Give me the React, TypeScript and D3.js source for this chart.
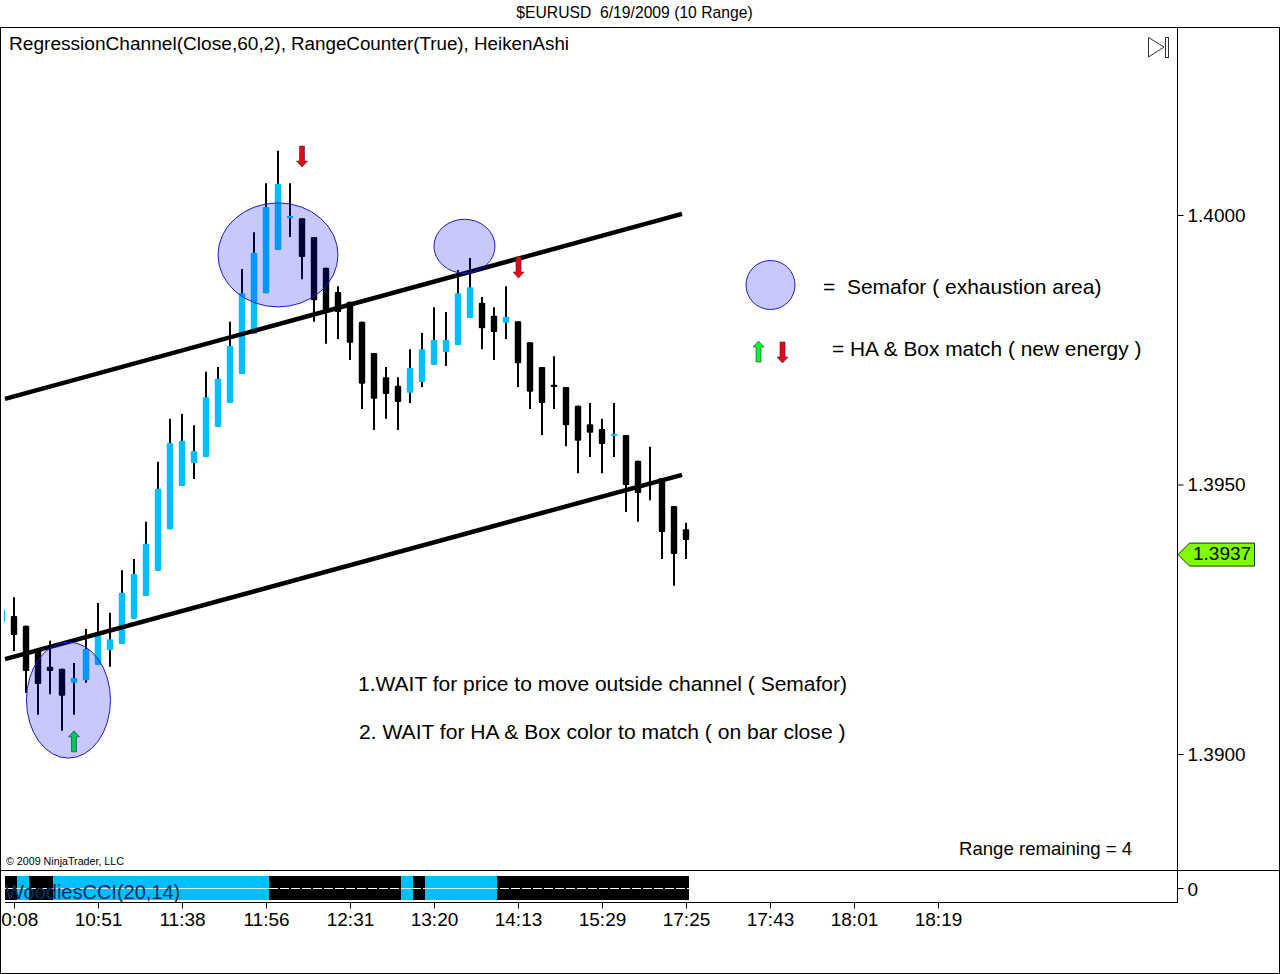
import { useEffect, useRef } from "react";
import * as d3 from "d3";

const FONT = '"Liberation Sans", Arial, sans-serif';
const UP_COLOR = "#00bfff";

// one entry per bar, the first bar is cut off by the left edge of the panel
const highs = [
  1.39291, 1.39291, 1.39238, 1.39193, 1.3921, 1.39158, 1.39169, 1.39232, 1.3928, 1.39262,
  1.39341, 1.39362, 1.39431, 1.39542, 1.39622, 1.39631, 1.3961, 1.39709, 1.39718, 1.39802,
  1.399, 1.39968, 1.40059, 1.40119, 1.40059, 1.39994, 1.39959, 1.39902, 1.39868, 1.39839,
  1.39802, 1.39744, 1.39718, 1.39699, 1.39751, 1.39781, 1.39829, 1.3982, 1.39898, 1.3992,
  1.39848, 1.39829, 1.39868, 1.39803, 1.39764, 1.39718, 1.39738, 1.39681, 1.39646, 1.39651,
  1.39622, 1.39651, 1.39592, 1.39544, 1.3957, 1.39512, 1.3946, 1.39429,
];
const lows = [
  1.39212, 1.39191, 1.39113, 1.39073, 1.39111, 1.39043, 1.39073, 1.39132, 1.39165, 1.39162,
  1.39204, 1.39251, 1.39293, 1.3934, 1.39417, 1.39497, 1.3951, 1.39551, 1.39607, 1.39651,
  1.39705, 1.39779, 1.39855, 1.39935, 1.39959, 1.39881, 1.39802, 1.39761, 1.3977, 1.39731,
  1.3964, 1.39601, 1.39622, 1.39601, 1.39651, 1.39681, 1.39722, 1.3972, 1.39759, 1.39809,
  1.39751, 1.39731, 1.3977, 1.39681, 1.3964, 1.39592, 1.3964, 1.39571, 1.39521, 1.39551,
  1.39521, 1.39551, 1.39449, 1.39431, 1.39471, 1.39362, 1.39312, 1.39362,
];
const opens = [
  1.39245, 1.39256, 1.39238, 1.39193, 1.39162, 1.39158, 1.39132, 1.39137, 1.39165, 1.39193,
  1.39204, 1.39251, 1.39293, 1.3934, 1.39417, 1.39497, 1.3954, 1.39551, 1.39607, 1.39651,
  1.39705, 1.39779, 1.39855, 1.39935, 1.39994, 1.39994, 1.39959, 1.39902, 1.39857, 1.39839,
  1.39802, 1.39744, 1.39699, 1.39683, 1.3967, 1.3969, 1.39722, 1.39746, 1.39759, 1.39809,
  1.39837, 1.39813, 1.398, 1.39803, 1.39764, 1.39718, 1.39685, 1.39681, 1.39646, 1.39612,
  1.39603, 1.3959, 1.39592, 1.39544, 1.39505, 1.39512, 1.3946, 1.39417,
];
const closes = [
  1.39267, 1.39221, 1.39154, 1.3913, 1.39154, 1.39108, 1.39141, 1.39195, 1.39221, 1.39213,
  1.39299, 1.39334, 1.3939, 1.39492, 1.39577, 1.39581, 1.39562, 1.39662, 1.39696, 1.39757,
  1.39855, 1.3993, 1.40015, 1.40058, 1.39998, 1.39922, 1.39842, 1.3982, 1.3982, 1.39763,
  1.39687, 1.39659, 1.39668, 1.39653, 1.39716, 1.39751, 1.39768, 1.39768, 1.39855, 1.39866,
  1.3979, 1.39783, 1.39811, 1.39725, 1.39672, 1.39651, 1.39681, 1.3961, 1.39581, 1.39596,
  1.39575, 1.39594, 1.39499, 1.39484, 1.39501, 1.39412, 1.39371, 1.39397,
];

// WoodiesCCI state per bar, starting at the second bar
const cciState = [
  -1, 1, -1, -1, 1, 1, 1, 1, 1, 1, 1, 1, 1, 1, 1, 1, 1, 1, 1, 1, 1, 1,
  -1, -1, -1, -1, -1, -1, -1, -1, -1, -1, -1, 1, -1, 1, 1, 1, 1, 1, 1,
  -1, -1, -1, -1, -1, -1, -1, -1, -1, -1, -1, -1, -1, -1, -1, -1,
];

const timeTickBars = [1, 8, 15, 22, 29, 36, 43, 50, 57, 64, 71, 78];
const timeLabels = ["10:08", "10:51", "11:38", "11:56", "12:31", "13:20", "14:13", "15:29", "17:25", "17:43", "18:01", "18:19"];
const priceTicks = [1.39, 1.395, 1.4];

const channelBars = [0.25, 56.67];
const channelUpper = [1.39659, 1.40002];
const channelLower = [1.39176, 1.39518];

const semaforBars = [5.54, 23, 38.54];
const semaforPrices = [1.391, 1.39926, 1.39942];
const semaforRx = [42, 60, 30.5];
const semaforRy = [58, 52, 27];

const lastPrice = 1.3937;

function arrowPath(x: number, tipY: number, dir: number) {
  // dir = 1 points down, dir = -1 points up
  const p = d3.path();
  const tail = tipY - dir * 21;
  const neck = tipY - dir * 6;
  p.moveTo(x, tipY);
  p.lineTo(x + 5.5, neck);
  p.lineTo(x + 2.5, neck);
  p.lineTo(x + 2.5, tail);
  p.lineTo(x - 2.5, tail);
  p.lineTo(x - 2.5, neck);
  p.lineTo(x - 5.5, neck);
  p.closePath();
  return p.toString();
}

export default function App() {
  const svgRef = useRef<SVGSVGElement | null>(null);

  useEffect(() => {
    const svg = d3.select(svgRef.current);
    svg.selectAll("*").remove();

    const x = d3.scaleLinear().domain([0, 57]).range([2, 686]);
    const y = d3.scaleLinear().domain([1.39, 1.4]).range([754, 215]);
    const cciY = d3.scaleLinear().domain([-1, 1]).range([900, 876]);

    const label = (tx: number, ty: number, text: string, size: number, anchor = "start") =>
      svg
        .append("text")
        .attr("x", tx)
        .attr("y", ty)
        .attr("font-family", FONT)
        .attr("font-size", size)
        .attr("text-anchor", anchor)
        .attr("fill", "#000")
        .style("white-space", "pre")
        .text(text);

    svg.append("rect").attr("width", 1280).attr("height", 974).attr("fill", "#fff");

    svg.append("clipPath").attr("id", "plot").append("rect").attr("x", 4).attr("y", 28).attr("width", 1173).attr("height", 842);

    // candles
    const plot = svg.append("g").attr("clip-path", "url(#plot)");
    const bars = plot.selectAll("g.bar").data(highs).enter().append("g").attr("class", "bar");
    bars
      .append("line")
      .attr("x1", (_, i) => x(i))
      .attr("x2", (_, i) => x(i))
      .attr("y1", (d) => y(d))
      .attr("y2", (_, i) => y(lows[i]))
      .attr("stroke", "#000")
      .attr("stroke-width", 2);
    bars
      .append("rect")
      .attr("x", (_, i) => x(i) - 3.2)
      .attr("width", 6.4)
      .attr("y", (_, i) => y(Math.max(opens[i], closes[i])))
      .attr("height", (_, i) => Math.max(1, Math.abs(y(opens[i]) - y(closes[i]))))
      .attr("rx", 1)
      .attr("fill", (_, i) => (closes[i] >= opens[i] ? UP_COLOR : "#000"));

    // regression channel
    const channelLine = d3
      .line<number>()
      .x((_, i) => x(channelBars[i]))
      .y((d) => y(d));
    [channelUpper, channelLower].forEach((c) => {
      svg.append("path").attr("d", channelLine(c)).attr("fill", "none").attr("stroke", "#000").attr("stroke-width", 4.5);
    });

    // signal arrows
    const arrow = (ax: number, tip: number, dir: number, color: string) =>
      svg
        .append("path")
        .attr("d", arrowPath(ax, tip, dir))
        .attr("fill", color)
        .attr("stroke", "#3a2a2a")
        .attr("stroke-width", 0.6);
    arrow(x(6), y(1.39043), -1, "#00f830");
    arrow(x(25), y(1.40089), 1, "#f00010");
    arrow(x(43) + 0.5, y(1.39883), 1, "#f00010");
    arrow(758.5, 341, -1, "#00f830");
    arrow(782.5, 363, 1, "#f00010");

    // semafor circles, painted over the bars
    const blob = (cx: number, cy: number, rx: number, ry: number) =>
      svg
        .append("ellipse")
        .attr("cx", cx)
        .attr("cy", cy)
        .attr("rx", rx)
        .attr("ry", ry)
        .attr("fill", "rgba(0,10,240,0.22)")
        .attr("stroke", "#1c1cc0")
        .attr("stroke-width", 1);
    semaforBars.forEach((b, i) => blob(x(b), y(semaforPrices[i]), semaforRx[i], semaforRy[i]));
    blob(770.5, 285, 24.5, 24.5);

    // indicator panel
    const cci = svg.append("g").attr("clip-path", "url(#plot2)");
    svg.append("clipPath").attr("id", "plot2").append("rect").attr("x", 5).attr("y", 871).attr("width", 1172).attr("height", 31);
    cci
      .selectAll("rect")
      .data(cciState)
      .enter()
      .append("rect")
      .attr("x", (_, i) => x(i + 1) - 9)
      .attr("width", 12)
      .attr("y", cciY(1))
      .attr("height", cciY(-1) - cciY(1))
      .attr("shape-rendering", "crispEdges")
      .attr("fill", (d) => (d > 0 ? UP_COLOR : "#000"));
    cci
      .append("line")
      .attr("x1", 5)
      .attr("x2", 689)
      .attr("y1", cciY(0) + 0.5)
      .attr("y2", cciY(0) + 0.5)
      .attr("stroke", "#fff")
      .attr("stroke-dasharray", "9 2");
    // the zero line reads as unbroken over the blue stretches
    cciState.forEach((d, i) => {
      if (d <= 0) return;
      cci
        .append("line")
        .attr("x1", x(i + 1) - 9)
        .attr("x2", x(i + 1) + 3)
        .attr("y1", cciY(0) + 0.5)
        .attr("y2", cciY(0) + 0.5)
        .attr("stroke", "#d8f4ff");
    });
    cci
      .append("text")
      .attr("x", 5)
      .attr("y", 899)
      .attr("font-family", FONT)
      .attr("font-size", 20)
      .attr("fill", "#04305e")
      .text("WoodiesCCI(20,14)");

    // frame
    const frameLine = (x1: number, y1: number, x2: number, y2: number) =>
      svg
        .append("line")
        .attr("x1", x1)
        .attr("y1", y1)
        .attr("x2", x2)
        .attr("y2", y2)
        .attr("stroke", "#000")
        .attr("stroke-width", 1)
        .attr("shape-rendering", "crispEdges");
    frameLine(0, 27.5, 1280, 27.5);
    frameLine(0.5, 27, 0.5, 974);
    frameLine(1279.5, 27, 1279.5, 974);
    frameLine(0, 973.5, 1280, 973.5);
    frameLine(0, 870.5, 1280, 870.5);
    frameLine(1177.5, 27, 1177.5, 903);
    frameLine(5, 902.5, 1178, 902.5);

    // price axis
    const yAxis = d3
      .axisRight(y)
      .tickValues(priceTicks)
      .tickSize(6)
      .tickPadding(4)
      .tickFormat((d) => d3.format(".4f")(d as number));
    const yG = svg.append("g").attr("transform", "translate(1177.5,0)").call(yAxis);
    yG.select(".domain").remove();
    yG.selectAll("text").attr("font-family", FONT).attr("font-size", 19).attr("fill", "#000").attr("dy", "0.33em");
    yG.selectAll("line").attr("stroke", "#000");

    const cciAxis = d3
      .axisRight(cciY)
      .tickValues([0])
      .tickSize(6)
      .tickPadding(4)
      .tickFormat((d) => d3.format("d")(d as number));
    const cG = svg.append("g").attr("transform", "translate(1177.5,0)").call(cciAxis);
    cG.select(".domain").remove();
    cG.selectAll("text").attr("font-family", FONT).attr("font-size", 19).attr("fill", "#000").attr("dy", "0.42em");
    cG.selectAll("line").attr("stroke", "#000");

    // time axis
    const xAxis = d3
      .axisBottom(x)
      .tickValues(timeTickBars)
      .tickSize(6)
      .tickPadding(4)
      .tickFormat((_, i) => timeLabels[i]);
    const xG = svg.append("g").attr("transform", "translate(0,902.5)").call(xAxis);
    xG.select(".domain").remove();
    xG.selectAll("text").attr("font-family", FONT).attr("font-size", 19).attr("fill", "#000");
    xG.selectAll("line").attr("stroke", "#000");

    // last price tag
    const tagY = y(lastPrice);
    const tag = d3.path();
    tag.moveTo(1178, tagY);
    tag.lineTo(1189.5, tagY - 11.5);
    tag.lineTo(1254.5, tagY - 11.5);
    tag.lineTo(1254.5, tagY + 11.5);
    tag.lineTo(1189.5, tagY + 11.5);
    tag.closePath();
    svg.append("path").attr("d", tag.toString()).attr("fill", "#7fff00").attr("stroke", "#1a3300").attr("stroke-width", 1);
    label(1193, tagY + 5.5, d3.format(".4f")(lastPrice), 19);

    // scroll button
    svg.append("path").attr("d", "M1148.5,37.5L1164,47L1148.5,57Z").attr("fill", "#fff").attr("stroke", "#333");
    svg.append("rect").attr("x", 1165.5).attr("y", 37.5).attr("width", 3).attr("height", 20).attr("fill", "#fff").attr("stroke", "#333");

    // texts
    label(634.5, 18, "$EURUSD  6/19/2009 (10 Range)", 15.7, "middle");
    label(9, 50, "RegressionChannel(Close,60,2),", 19.1);
    label(291, 50, "RangeCounter(True),", 18.8);
    label(474, 50, "HeikenAshi", 18.8);
    label(823, 294, "=  Semafor ( exhaustion area)", 21);
    label(832, 356, "= HA & Box match ( new energy )", 20.9);
    label(358, 691, "1.WAIT for price to move outside channel ( Semafor)", 21);
    label(359, 739, "2. WAIT for HA & Box color to match ( on bar close )", 21.1);
    label(959, 855, "Range remaining = 4", 18.6);
    label(6, 865, "© 2009 NinjaTrader, LLC", 10.7);
  }, []);

  return (
    <div style={{ position: "absolute", top: 0, left: 0, width: 1280, height: 974 }}>
      <svg ref={svgRef} width={1280} height={974} style={{ display: "block" }} />
    </div>
  );
}
